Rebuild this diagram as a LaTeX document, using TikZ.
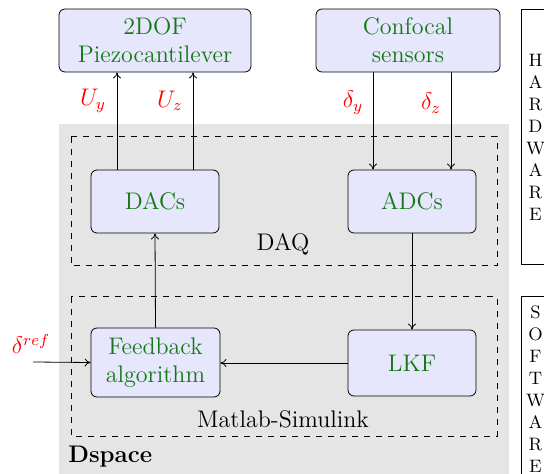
\documentclass[tikz,border=0pt]{standalone}
\usetikzlibrary{arrows.meta}
\definecolor{boxfill}{RGB}{230,230,252}
\definecolor{txtgreen}{RGB}{20,120,20}
\definecolor{dsgray}{RGB}{229,229,229}
\begin{document}
\begin{tikzpicture}[x=0.5pt,y=-0.5pt,
  blockbox/.style={draw, fill=boxfill, rounded corners=3pt, align=center, text=txtgreen, font=\large, inner sep=0pt},
  sig/.style={text=red, font=\large},
  conn/.style={-{To[length=3pt,width=4pt]}, line width=0.4pt},
  region/.style={draw, dashed, line width=0.5pt},
  side/.style={draw, line width=0.5pt}]
\useasboundingbox (0,0) rectangle (544,474);
\clip (0,0) rectangle (544,474);
% Dspace gray area
\fill[dsgray] (59,124) rectangle (509,480);
\node[anchor=west, font=\large\bfseries, inner sep=0pt] (dspace) at (68,457) {Dspace};
% dashed groups
\draw[region] (71,137) rectangle (497,266);
\draw[region] (71,297) rectangle (497,436);
\node[font=\large] (daq) at (283,244) {DAQ};
\node[font=\large] (ms) at (283,419) {Matlab-Simulink};
% blocks
\node[blockbox, minimum width=96pt, minimum height=31.5pt] (piezo) at (155,40.5) {2DOF\\Piezocantilever};
\node[blockbox, minimum width=92pt, minimum height=31.5pt] (conf) at (408,40.5) {Confocal\\sensors};
\node[blockbox, minimum width=64pt, minimum height=31.5pt] (dacs) at (155,201.5) {DACs};
\node[blockbox, minimum width=64pt, minimum height=31.5pt] (adcs) at (412,201.5) {ADCs};
\node[blockbox, minimum width=64.5pt, minimum height=34.5pt] (fb) at (155.5,362.5) {Feedback\\algorithm};
\node[blockbox, minimum width=64pt, minimum height=33pt] (lkf) at (412,363) {LKF};
% connectors
\draw[conn] ([xshift=-19pt]dacs.north) -- ([xshift=-19pt]dacs.north |- piezo.south);
\draw[conn] ([xshift=19pt]dacs.north) -- ([xshift=19pt]dacs.north |- piezo.south);
\draw[conn] ([xshift=-19.5pt]adcs.north |- conf.south) -- ([xshift=-19.5pt]adcs.north);
\draw[conn] ([xshift=19.5pt]adcs.north |- conf.south) -- ([xshift=19.5pt]adcs.north);
\draw[conn] (adcs.south) -- (lkf.north);
\draw[conn] (lkf.west) -- (fb.east |- lkf.west);
\draw[conn] (fb.north) -- (dacs.south);
\coordinate (refin) at (33,362);
\draw[conn] (refin) -- (fb.west);
% signal labels
\node[sig] (uy) at (93,101) {$U_y$};
\node[sig] (uz) at (170,101) {$U_z$};
\node[sig] (dy) at (353,103) {$\delta_y$};
\node[sig] (dz) at (431,103) {$\delta_z$};
\node[sig] (dref) at (31,344) {$\delta^{ref}$};
% side boxes
\draw[side] (521,10) rectangle (552,265);
\draw[side] (521,297) rectangle (552,490);
\node[align=center, font=\small, inner sep=0pt] (hw) at (535.5,137.5) {H\\A\\R\\D\\W\\A\\R\\E};
\node[align=center, font=\small, inner sep=0pt] (sw) at (535.5,389.5) {S\\O\\F\\T\\W\\A\\R\\E};
\end{tikzpicture}
\end{document}
